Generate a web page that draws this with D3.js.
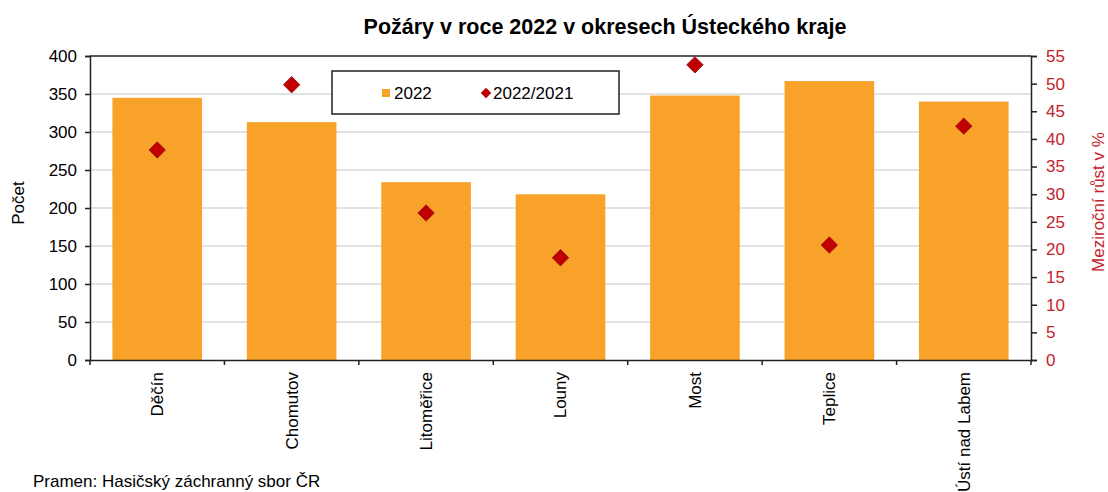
<!DOCTYPE html>
<meta charset="utf-8">
<style>
body {margin: 0; background: #fff;}
text {font-family: "Liberation Sans", Arial, sans-serif; fill: #000;}
</style>
<body>
<script src="https://d3js.org/d3.v7.min.js"></script>
<div id="chart"></div>
<script>
// data
var districts = ["Děčín", "Chomutov", "Litoměřice", "Louny", "Most", "Teplice", "Ústí nad Labem"];
var fires2022 = [345, 313, 234, 218, 348, 367, 340];
var growth = [38.0, 49.8, 26.6, 18.5, 53.4, 20.8, 42.3];
var leftTicks = [0, 50, 100, 150, 200, 250, 300, 350, 400];
var rightTicks = [0, 5, 10, 15, 20, 25, 30, 35, 40, 45, 50, 55];

var width = 1108, height = 492,
    plotL = 90, plotR = 1031, plotT = 56, plotB = 360,
    red = "#c4222b", orange = "#f8a22a";

var svg = d3.select("#chart").append("svg")
    .attr("width", width).attr("height", height);

var x = d3.scaleBand().domain(districts).range([plotL, plotR])
    .paddingInner(1 / 3).paddingOuter(1 / 6);
var y = d3.scaleLinear().domain([0, 400]).range([plotB, plotT]);
var y2 = d3.scaleLinear().domain([0, 55]).range([plotB, plotT]);

// grid
svg.append("g").selectAll("line")
    .data(leftTicks.slice(1, -1))
    .enter().append("line")
    .attr("x1", plotL).attr("x2", plotR)
    .attr("y1", function(d) { return y(d); })
    .attr("y2", function(d) { return y(d); })
    .attr("stroke", "#d9d9d9").attr("stroke-width", 1.5);

// bars
svg.append("g").selectAll("rect")
    .data(fires2022)
    .enter().append("rect")
    .attr("x", function(d, i) { return x(districts[i]); })
    .attr("y", function(d) { return y(d); })
    .attr("width", x.bandwidth())
    .attr("height", function(d) { return plotB - y(d); })
    .attr("fill", orange);

// top border
svg.append("line").attr("x1", plotL).attr("x2", plotR)
    .attr("y1", plotT).attr("y2", plotT)
    .attr("stroke", "#222").attr("stroke-width", 1.5);

// axes
var gl = svg.append("g").attr("transform", "translate(" + plotL + ",0)")
    .call(d3.axisLeft(y).tickValues(leftTicks).tickSize(5).tickPadding(8));
var gr = svg.append("g").attr("transform", "translate(" + plotR + ",0)")
    .call(d3.axisRight(y2).tickValues(rightTicks).tickSize(6).tickPadding(9));
var gb = svg.append("g").attr("transform", "translate(0," + plotB + ")")
    .call(d3.axisBottom(x).tickSize(0).tickPadding(0));
gb.selectAll(".tick text")
    .attr("transform", "rotate(-90)")
    .attr("x", -12).attr("y", 0).attr("dy", "0.35em")
    .style("text-anchor", "end");
gb.selectAll(".boundary")
    .data(d3.range(districts.length + 1))
    .enter().append("line")
    .attr("x1", function(i) { return plotL + i * x.step(); })
    .attr("x2", function(i) { return plotL + i * x.step(); })
    .attr("y1", 0).attr("y2", 5)
    .attr("stroke", "#222").attr("stroke-width", 1.5);

[gl, gr, gb].forEach(function(g) {
    g.selectAll(".domain").attr("stroke", "#222").attr("stroke-width", 1.5);
    g.selectAll(".tick line").attr("stroke", "#222").attr("stroke-width", 1.5);
    g.selectAll(".tick text").style("font-size", "17px")
        .style("font-family", "'Liberation Sans', Arial, sans-serif");
});
gl.selectAll(".tick text").style("fill", "#000");
gb.selectAll(".tick text").style("fill", "#000");
gr.selectAll(".tick text").style("fill", red);

// diamonds
var diamond = d3.symbol().type(d3.symbolDiamond2).size(170);
svg.append("g").selectAll("path")
    .data(growth)
    .enter().append("path")
    .attr("d", diamond)
    .attr("transform", function(d, i) {
        return "translate(" + (x(districts[i]) + x.bandwidth() / 2) + "," + y2(d) + ")";
    })
    .attr("fill", "#c00000").attr("stroke", "#a3161c").attr("stroke-width", 1);

// titles
svg.append("text").attr("x", 605).attr("y", 34)
    .attr("text-anchor", "middle")
    .style("font-size", "21.5px").style("font-weight", "bold")
    .text("Požáry v roce 2022 v okresech Ústeckého kraje");
svg.append("text").attr("transform", "translate(24,203) rotate(-90)")
    .attr("text-anchor", "middle").style("font-size", "17px").text("Počet");
svg.append("text").attr("transform", "translate(1104,202) rotate(-90)")
    .attr("text-anchor", "middle").style("font-size", "17px").style("fill", red)
    .text("Meziroční růst v %");
svg.append("text").attr("x", 33).attr("y", 487)
    .style("font-size", "17px").text("Pramen: Hasičský záchranný sbor ČR");

// legend
var lg = svg.append("g");
lg.append("rect").attr("x", 332).attr("y", 71).attr("width", 287).attr("height", 43)
    .attr("fill", "#fff").attr("stroke", "#222").attr("stroke-width", 1.5);
lg.append("rect").attr("x", 382).attr("y", 89).attr("width", 8).attr("height", 8)
    .attr("fill", orange);
lg.append("text").attr("x", 394).attr("y", 99).style("font-size", "17px").text("2022");
lg.append("path").attr("d", d3.symbol().type(d3.symbolDiamond2).size(70))
    .attr("transform", "translate(486,93)").attr("fill", "#c00000");
lg.append("text").attr("x", 493).attr("y", 99).style("font-size", "17px").text("2022/2021");
</script>
</body>
